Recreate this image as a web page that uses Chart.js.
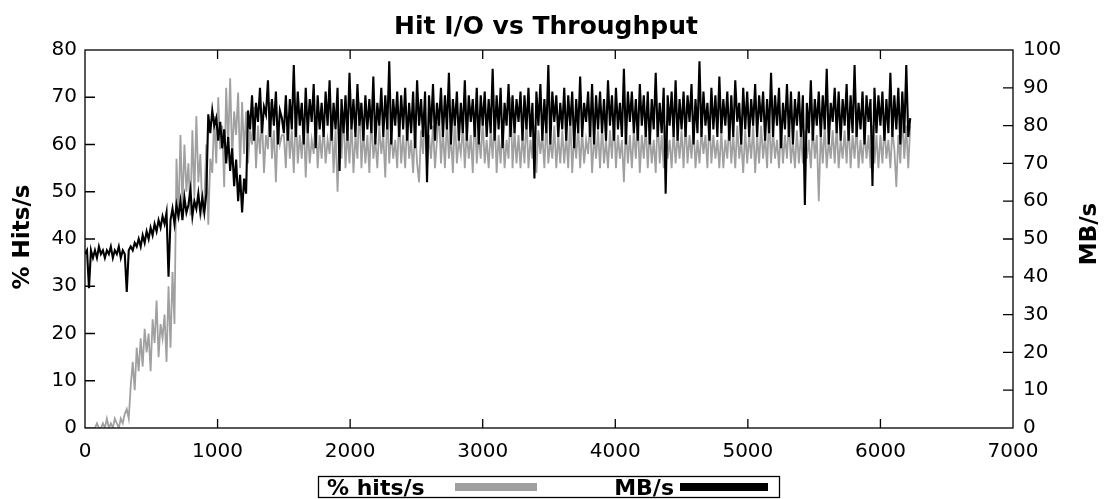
<!DOCTYPE html>
<html>
<head>
<meta charset="utf-8">
<title>Hit I/O vs Throughput</title>
<script src="https://cdn.jsdelivr.net/npm/chart.js@4.4.1/dist/chart.umd.min.js"></script>
<style>
  html, body { margin: 0; padding: 0; background: #fff; }
  #wrap { width: 1104px; height: 499px; position: relative; }
</style>
</head>
<body>
<div id="wrap"><canvas id="hitChart"></canvas></div>
<script>
// sample spacing along the time axis (one reading every 15 s)
const sampleStep = 15;

// % hits/s, left axis (one value per sample)
const hitsPct = [
  0,0,0,0,0,0,1,0,0,1,0,2,0,1,0,2,1,0,2,1,
  3,4,2,9,14,8,17,12,19,13,21,16,20,12,23,18,27,15,22,19,
  24,14,30,17,33,22,57,44,62,47,60,50,56,45,63,49,66,52,58,46,
  48,60,43,57,54,66,56,70,59,64,51,72,60,74,57,67,62,71,55,69,
  58,67,56,63,60,68,55,64,58,66,54,62,59,69,57,63,52,65,60,62,
  62,55,66,57,63,54,67,56,62,57,65,53,64,56,61,58,66,55,62,57,
  64,56,61,58,66,54,63,50,62,57,67,55,63,56,65,54,62,57,69,55,
  63,56,62,54,66,57,61,55,64,58,62,53,67,56,63,57,61,55,66,56,
  62,55,65,57,61,54,64,56,52,63,58,66,55,62,57,64,55,61,67,56,
  63,55,65,57,62,54,66,56,61,58,64,55,63,57,62,54,67,56,62,57,
  65,56,61,55,63,57,66,54,62,56,64,55,61,57,70,55,63,56,62,55,
  62,56,66,55,61,57,64,54,63,58,62,55,65,56,61,57,64,55,62,56,
  63,56,62,55,66,54,62,57,64,55,63,56,61,58,65,54,62,57,63,55,
  64,56,61,55,63,57,66,55,62,57,61,52,64,56,62,55,63,57,65,54,
  62,57,64,55,63,56,61,54,66,56,62,55,64,57,61,55,63,56,62,57,
  63,55,65,56,62,57,64,55,61,56,63,58,62,55,66,56,62,57,61,55,
  63,55,61,57,65,56,62,55,64,57,61,54,63,56,62,57,64,54,62,56,
  64,57,62,55,66,56,63,57,61,55,64,56,62,57,65,56,61,55,63,56,
  62,56,63,57,61,55,64,57,62,48,63,56,64,55,61,57,63,56,64,55,
  61,57,63,56,65,55,62,57,64,55,61,56,63,57,62,55,64,56,62,55,
  62,56,64,57,61,55,63,59,51,62,56,66,57,64,55,64
];

// MB/s, right axis
const mbPerSec = [
  46,47,37,47,45,47,45,48,46,47,45,47,46,48,45,47,46,48,45,47,
  46,36,47,48,47,49,48,50,48,51,49,52,50,53,51,54,52,55,53,56,
  54,57,40,55,58,54,59,56,60,55,61,57,59,63,56,60,58,62,57,61,
  57,62,83,78,84,80,82,76,81,74,79,70,77,68,74,64,71,60,67,57,
  66,62,84,79,88,76,86,81,90,78,85,83,92,77,87,80,89,75,84,82,
  78,88,76,87,79,96,77,89,80,86,75,90,78,87,81,91,74,88,79,86,
  77,89,80,92,76,86,79,90,68,87,78,88,76,94,79,87,77,91,80,86,
  76,88,79,87,78,93,75,86,80,90,77,88,79,97,75,87,80,89,77,88,
  79,90,76,86,78,89,74,92,80,87,77,89,65,88,79,91,76,86,80,90,
  77,88,79,94,75,87,80,89,76,86,78,92,76,88,81,87,77,90,75,88,
  80,89,77,87,78,95,76,88,79,90,74,86,80,91,77,88,78,87,81,89,
  76,88,79,90,77,86,66,89,80,91,76,87,78,96,75,89,81,88,77,86,
  79,90,76,88,80,89,74,87,78,93,77,86,81,89,77,91,75,88,79,89,
  78,87,76,92,80,88,76,90,79,86,77,95,75,89,81,89,78,87,76,91,
  80,88,77,89,75,87,79,94,77,86,78,90,62,88,80,89,77,92,76,87,
  79,89,77,88,81,91,75,87,78,97,77,89,80,86,76,90,79,88,77,93,
  78,87,80,89,76,88,77,92,81,86,75,90,79,89,77,87,80,91,77,88,
  81,89,76,87,78,94,77,88,80,90,74,86,79,91,77,89,75,87,80,89,
  77,88,59,86,78,92,76,87,80,89,77,88,79,95,75,86,81,90,78,89,
  76,87,80,91,76,88,78,96,77,86,79,89,75,88,81,87,64,90,78,88,
  80,89,76,87,78,94,77,88,79,90,75,89,78,96,77,82
];

const seriesNames = ['% hits/s', 'MB/s'];
const xRange = [0, 7000];
const hitsRange = [0, 80];
const mbRange = [0, 100];

const GRAY = '#a0a0a0';
const BLACK = '#000000';
const tickFont = { family: 'DejaVu Sans', size: 20 };
const boldFamily = '"DejaVu Sans", Verdana, sans-serif';

// gnuplot look: frame, inward ticks, titles and boxed key drawn on top
const gnuplotDecor = {
  id: 'gnuplotDecor',
  afterDraw(chart) {
    const { ctx, chartArea: a, scales } = chart;
    ctx.save();
    ctx.strokeStyle = '#000';
    ctx.lineWidth = 1.3;
    ctx.strokeRect(a.left, a.top, a.right - a.left, a.bottom - a.top);

    ctx.beginPath();
    scales.x.ticks.forEach(t => {
      if (t.value <= xRange[0] || t.value >= xRange[1]) return;
      const px = scales.x.getPixelForValue(t.value);
      ctx.moveTo(px, a.bottom); ctx.lineTo(px, a.bottom - 9);
      ctx.moveTo(px, a.top); ctx.lineTo(px, a.top + 9);
    });
    scales.y.ticks.forEach(t => {
      if (t.value <= hitsRange[0] || t.value >= hitsRange[1]) return;
      const py = scales.y.getPixelForValue(t.value);
      ctx.moveTo(a.left, py); ctx.lineTo(a.left + 10, py);
    });
    scales.y1.ticks.forEach(t => {
      if (t.value <= mbRange[0] || t.value >= mbRange[1]) return;
      const py = scales.y1.getPixelForValue(t.value);
      ctx.moveTo(a.right, py); ctx.lineTo(a.right - 10, py);
    });
    ctx.stroke();

    ctx.fillStyle = '#000';
    ctx.textAlign = 'center';
    ctx.textBaseline = 'middle';
    ctx.font = 'bold 25px ' + boldFamily;
    ctx.fillText('Hit I/O vs Throughput', 546, 27);

    ctx.font = 'bold 23px ' + boldFamily;
    ctx.save();
    ctx.translate(23, 237);
    ctx.rotate(-Math.PI / 2);
    ctx.fillText('% Hits/s', 0, 0);
    ctx.restore();
    ctx.save();
    ctx.translate(1090, 234);
    ctx.rotate(-Math.PI / 2);
    ctx.fillText('MB/s', 0, 0);
    ctx.restore();

    // key box
    ctx.lineWidth = 1.3;
    ctx.strokeRect(318.5, 476.5, 461, 21);
    ctx.font = 'bold 22px ' + boldFamily;
    ctx.textBaseline = 'alphabetic';
    ctx.textAlign = 'left';
    ctx.fillText(seriesNames[0], 327, 495);
    ctx.textAlign = 'right';
    ctx.fillText(seriesNames[1], 674, 495);
    ctx.fillStyle = GRAY;
    ctx.fillRect(455, 483, 82, 8);
    ctx.fillStyle = BLACK;
    ctx.fillRect(680, 483, 88, 8);
    ctx.restore();
  }
};

const times = hitsPct.map((_, i) => i * sampleStep);

new Chart(document.getElementById('hitChart'), {
  type: 'line',
  data: {
    datasets: [
      {
        label: seriesNames[0],
        data: hitsPct.map((v, i) => ({ x: times[i], y: v })),
        yAxisID: 'y',
        borderColor: GRAY,
        borderWidth: 1.8,
        pointRadius: 0,
        tension: 0,
        order: 2
      },
      {
        label: seriesNames[1],
        data: mbPerSec.map((v, i) => ({ x: times[i], y: v })),
        yAxisID: 'y1',
        borderColor: BLACK,
        borderWidth: 2.1,
        pointRadius: 0,
        tension: 0,
        order: 1
      }
    ]
  },
  options: {
    responsive: true,
    maintainAspectRatio: false,
    animation: false,
    events: [],
    layout: { padding: { top: 50, left: 0, right: 0, bottom: 0 } },
    plugins: {
      legend: { display: false },
      title: { display: false },
      tooltip: { enabled: false }
    },
    scales: {
      x: {
        type: 'linear',
        min: xRange[0],
        max: xRange[1],
        grid: { display: false, drawTicks: false },
        border: { display: false },
        ticks: { stepSize: 1000, color: '#000', font: tickFont, padding: 12, maxRotation: 0,
                 callback: v => String(v) },
        afterFit(scale) { scale.height = 71; }
      },
      y: {
        position: 'left',
        min: hitsRange[0],
        max: hitsRange[1],
        grid: { display: false, drawTicks: false },
        border: { display: false },
        ticks: { stepSize: 10, color: '#000', font: tickFont, padding: 8 },
        afterFit(scale) { scale.width = 85; }
      },
      y1: {
        position: 'right',
        min: mbRange[0],
        max: mbRange[1],
        grid: { display: false, drawTicks: false },
        border: { display: false },
        ticks: { stepSize: 10, color: '#000', font: tickFont, padding: 10 },
        afterFit(scale) { scale.width = 91; }
      }
    }
  },
  plugins: [gnuplotDecor]
});
</script>
</body>
</html>
